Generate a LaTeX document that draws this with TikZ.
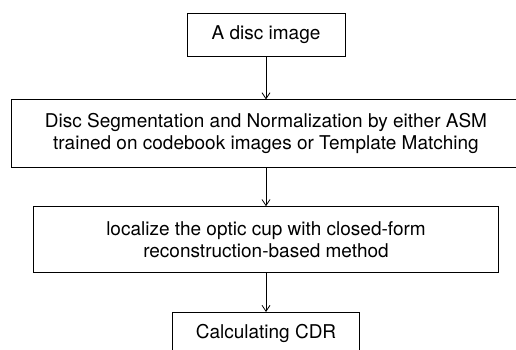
\documentclass[tikz,border=0pt]{standalone}
\usepackage{fontspec}
\setmainfont{TeX Gyre Heros}
\usepackage{tikz}
\usetikzlibrary {arrows.meta,
                 positioning}
\tikzset{
        base/.style={draw, align=center, inner sep=0pt, line width=0.8pt,
                     font=\fontsize{19}{22}\selectfont},
        proc/.style={base, rectangle},
        myarrow/.style={-{Straight Barb[length=6pt, width=8pt]}, line width=0.8pt},
 }

\begin{document}
\begin{tikzpicture}
    \useasboundingbox (0,0) rectangle (516pt,-350pt);
    \node[proc, minimum width=158pt, minimum height=43pt] (img) at (266pt,-34.5pt) {A disc image};
    \node[proc, minimum width=510pt, minimum height=68pt, below=43pt of img]
         (seg) {Disc Segmentation and Normalization by either ASM\\trained on codebook images or Template Matching};
    \node[proc, minimum width=465pt, minimum height=66pt, below=38pt of seg]
         (cup) {localize the optic cup with closed-form\\reconstruction-based method};
    \node[proc, minimum width=187pt, minimum height=43pt, below=39pt of cup] (cdr) {Calculating CDR};

    \draw[myarrow] (img) -- (seg);
    \draw[myarrow] (seg) -- (cup);
    \draw[myarrow] (cup) -- (cdr);

\end{tikzpicture}
\end{document}
